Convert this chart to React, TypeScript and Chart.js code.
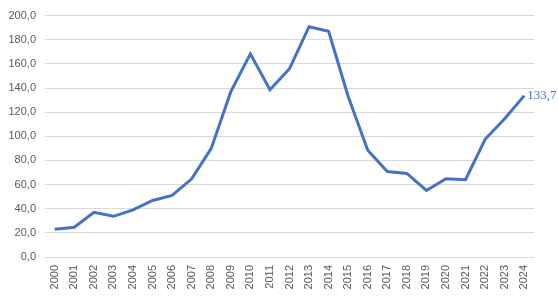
import React, { useEffect, useRef } from "react";
import { Chart, registerables } from "chart.js";

Chart.register(...registerables);

const years = [
  "2000", "2001", "2002", "2003", "2004", "2005", "2006", "2007", "2008", "2009",
  "2010", "2011", "2012", "2013", "2014", "2015", "2016", "2017", "2018", "2019",
  "2020", "2021", "2022", "2023", "2024",
];
const values = [
  23.0, 24.6, 37.0, 33.7, 39.0, 46.8, 51.0, 64.8, 90.0, 137.0,
  168.3, 138.6, 156.0, 190.8, 187.0, 133.0, 88.4, 70.8, 69.2, 55.1,
  64.8, 64.0, 97.5, 114.5, 133.7,
];
const lastLabel = "133,7";

const fmt = (v: number) => v.toFixed(1).replace(".", ",");

export default function App() {
  const ref = useRef<HTMLCanvasElement | null>(null);
  useEffect(() => {
    document.body.style.margin = "0";
    if (!ref.current) return;
    const endLabel = {
      id: "endLabel",
      afterDatasetsDraw(chart: any) {
        const meta = chart.getDatasetMeta(0);
        const pt = meta.data[meta.data.length - 1];
        const ctx = chart.ctx;
        ctx.save();
        ctx.font = "13px 'Liberation Serif', 'Times New Roman', serif";
        ctx.fillStyle = "#4472C4";
        ctx.textAlign = "left";
        ctx.textBaseline = "middle";
        ctx.fillText(lastLabel, pt.x + 3, pt.y);
        ctx.restore();
      },
    };
    const chart = new Chart(ref.current, {
      type: "line",
      data: {
        labels: years,
        datasets: [
          {
            data: values,
            borderColor: "#4472C4",
            borderWidth: 3,
            pointRadius: 0,
            tension: 0,
            fill: false,
          },
        ],
      },
      options: {
        animation: false,
        responsive: false,
        maintainAspectRatio: false,
        layout: { padding: { top: 15, right: 24, left: 0, bottom: 0 } },
        plugins: { legend: { display: false }, tooltip: { enabled: false } },
        scales: {
          x: {
            offset: true,
            grid: { display: false, drawTicks: false },
            border: { display: false },
            ticks: {
              minRotation: 90,
              maxRotation: 90,
              padding: 8,
              color: "#595959",
              font: { family: "'Liberation Sans', Arial, sans-serif", size: 11 },
              autoSkip: false,
            },
            afterFit: (s: any) => {
              s.height = 43;
            },
          },
          y: {
            min: 0,
            max: 200,
            ticks: {
              stepSize: 20,
              padding: 9,
              color: "#595959",
              font: { family: "'Liberation Sans', Arial, sans-serif", size: 11 },
              callback: (v: any) => fmt(Number(v)),
            },
            grid: { color: "#d9d9d9", lineWidth: 1, drawTicks: false },
            border: { display: false },
            afterFit: (s: any) => {
              s.width = 45;
            },
          },
        },
      },
      plugins: [endLabel],
    });
    return () => chart.destroy();
  }, []);
  return (
    <div style={{ width: 558, height: 300, background: "#fff" }}>
      <canvas ref={ref} width={558} height={300} style={{ display: "block" }} />
    </div>
  );
}
